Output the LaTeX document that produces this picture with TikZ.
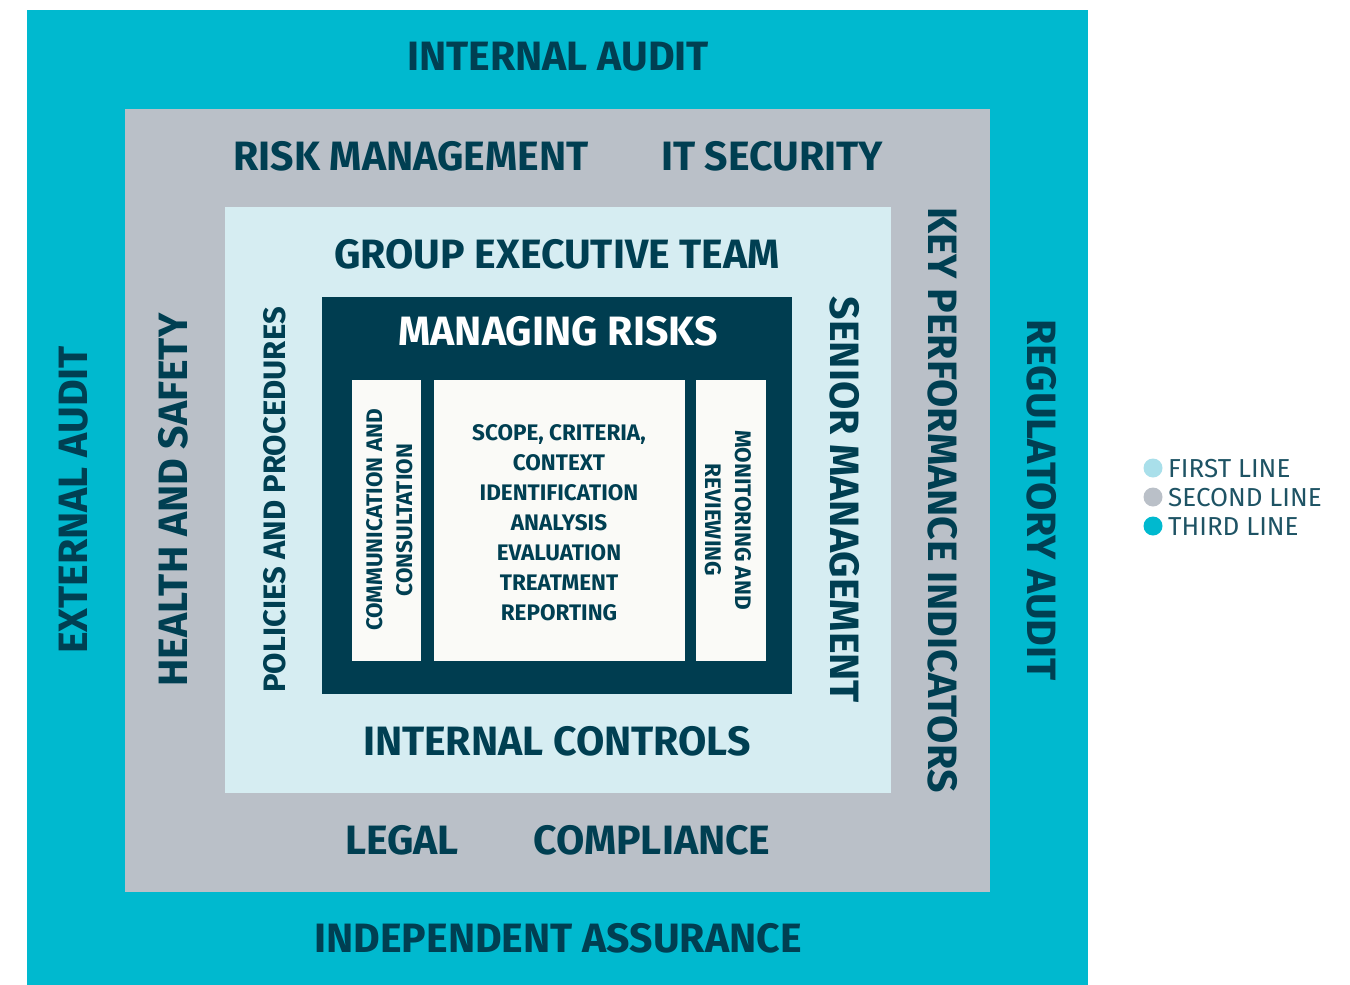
\documentclass[tikz,border=0pt]{standalone}
\usepackage{fontspec}
\setmainfont{Fira Sans}
\usetikzlibrary{positioning}
\definecolor{thirdline}{HTML}{00B9CF}
\definecolor{secondline}{HTML}{BAC0C8}
\definecolor{firstline}{HTML}{D6EDF2}
\definecolor{firstdot}{HTML}{A9DFEA}
\definecolor{riskdark}{HTML}{003D50}
\definecolor{paper}{HTML}{FAFAF7}
\definecolor{labeltext}{HTML}{003F52}
\definecolor{legendtext}{HTML}{1E5364}
\tikzset{
  biglabel/.style={inner sep=0pt, anchor=base, text=labeltext,
    font=\fontsize{41}{41}\selectfont\bfseries},
  midlabel/.style={biglabel, font=\fontsize{31}{31}\selectfont\bfseries},
  smalllabel/.style={inner sep=0pt, anchor=base, text=labeltext,
    font=\fontsize{22.5}{22.5}\selectfont\bfseries},
  legendlabel/.style={inner sep=0pt, anchor=base west, text=legendtext,
    font=\fontsize{26}{26}\selectfont},
  legenddot/.style={circle, inner sep=0pt, minimum size=19pt}
}
\begin{document}
\begin{tikzpicture}[x=1pt,y=-1pt]
  \useasboundingbox (0,0) rectangle (1350,985);
  % Nested boxes
  \fill[thirdline] (27,10) rectangle (1088,985);
  \fill[secondline] (125,109) rectangle (990,892);
  \fill[firstline] (225,207) rectangle (891,793);
  \fill[riskdark] (322,297) rectangle (792,694);
  \fill[paper] (352,380) rectangle (421,661);
  \fill[paper] (434,380) rectangle (685,661);
  \fill[paper] (696,380) rectangle (766,661);
  % Third line
  \node[biglabel] (intaudit) at (558,70) {INTERNAL AUDIT};
  \node[biglabel] (indassur) at (558,952) {INDEPENDENT ASSURANCE};
  \node[biglabel, rotate=90] (extaudit) at (87,500) {EXTERNAL AUDIT};
  \node[biglabel, rotate=-90] (regaudit) at (1027,500) {REGULATORY AUDIT};
  % Second line
  \node[biglabel] (riskmgmt) at (411,170) {RISK MANAGEMENT};
  \node[biglabel] (itsec) at (772,170) {IT SECURITY};
  \node[biglabel] (legal) at (402,854) {LEGAL};
  \node[biglabel] (compl) at (652,854) {COMPLIANCE};
  \node[biglabel, rotate=90] (health) at (187,500) {HEALTH AND SAFETY};
  \node[biglabel, rotate=-90] (kpi) at (928,500) {KEY PERFORMANCE INDICATORS};
  % First line
  \node[biglabel] (groupexec) at (557,268) {GROUP EXECUTIVE TEAM};
  \node[biglabel] (intctrl) at (557,755) {INTERNAL CONTROLS};
  \node[midlabel, rotate=90] (policies) at (285,500) {POLICIES AND PROCEDURES};
  \node[biglabel, rotate=-90] (senior) at (830,500) {SENIOR MANAGEMENT};
  % Managing risks
  \node[biglabel, text=white] (managing) at (558,345) {MANAGING RISKS};
  \node[smalllabel, rotate=90] (comm1) at (382,520) {COMMUNICATION AND};
  \node[smalllabel, rotate=90] (comm2) at (412,520) {CONSULTATION};
  \node[smalllabel, rotate=-90] (monit1) at (735,520) {MONITORING AND};
  \node[smalllabel, rotate=-90] (monit2) at (705,520) {REVIEWING};
  \foreach \step/\y in {SCOPE{,} CRITERIA{,}/440, CONTEXT/470,
      IDENTIFICATION/500, ANALYSIS/530, EVALUATION/560,
      TREATMENT/590, REPORTING/620}
    \node[smalllabel] at (559,\y) {\step};
  % Legend
  \node[legenddot, fill=firstdot] (dotfirst) at (1153,468) {};
  \node[legenddot, fill=secondline] (dotsecond) at (1153,497) {};
  \node[legenddot, fill=thirdline] (dotthird) at (1153,526) {};
  \node[legendlabel] (first) at (1168,477) {FIRST LINE};
  \node[legendlabel] (second) at (1168,506) {SECOND LINE};
  \node[legendlabel] (third) at (1168,535) {THIRD LINE};
\end{tikzpicture}
\end{document}
